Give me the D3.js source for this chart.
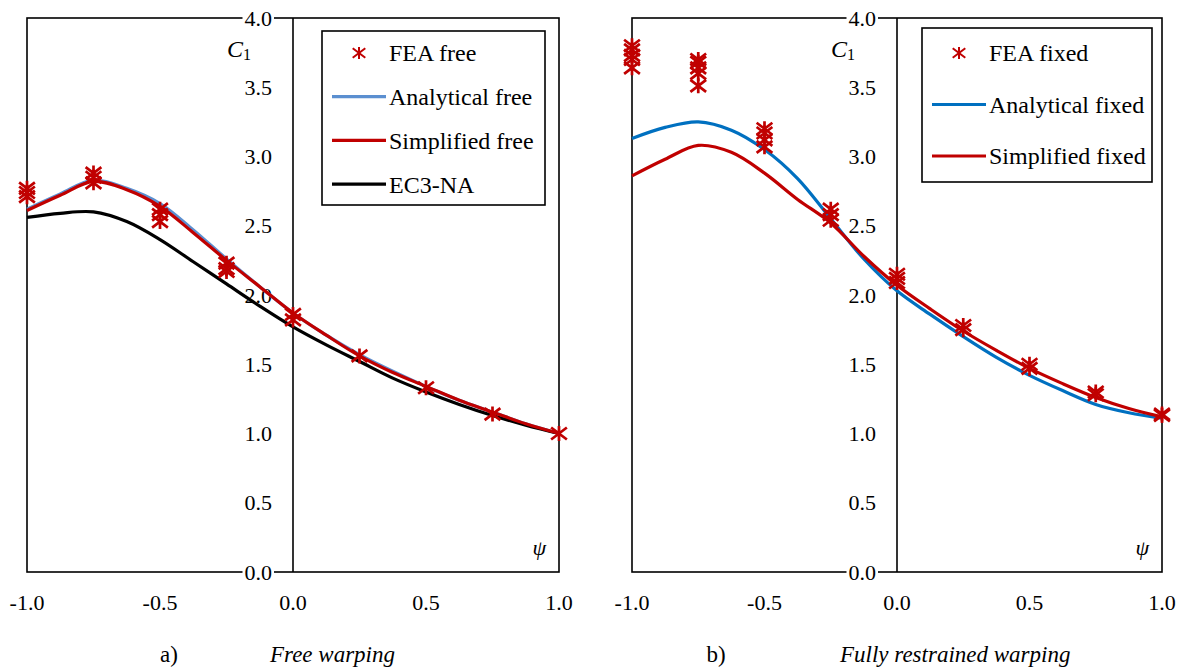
<!DOCTYPE html>
<html><head><meta charset="utf-8">
<script src="https://cdn.jsdelivr.net/npm/d3@7"></script>
<style>body{margin:0;background:#fff}svg{display:block}</style>
</head><body>
<svg id="c" width="1184" height="668" font-family="'Liberation Serif', 'Times New Roman', 'DejaVu Serif', serif"></svg>
<script>
// ---- data ----
const xTicks = [-1.0, -0.5, 0.0, 0.5, 1.0];
const yTicks = [0.0, 0.5, 1.0, 1.5, 2.0, 2.5, 3.0, 3.5, 4.0];
const curvePsi = [-1, -0.875, -0.75, -0.625, -0.5, -0.375, -0.25, -0.125, 0, 0.125, 0.25, 0.375, 0.5, 0.625, 0.75, 0.875, 1];
// panel a (free warping)
const analyticalFree = [2.62, 2.73, 2.83, 2.77, 2.66, 2.47, 2.26, 2.06, 1.87, 1.71, 1.57, 1.45, 1.34, 1.24, 1.155, 1.07, 1.0];
const simplifiedFree = [2.61, 2.72, 2.82, 2.76, 2.64, 2.45, 2.25, 2.06, 1.87, 1.71, 1.56, 1.44, 1.34, 1.24, 1.155, 1.07, 1.0];
const ec3NA          = [2.56, 2.59, 2.60, 2.53, 2.40, 2.24, 2.08, 1.92, 1.77, 1.64, 1.52, 1.40, 1.30, 1.21, 1.13, 1.06, 1.0];
const feaFreePsi  = [-1, -1, -1, -0.75, -0.75, -0.75, -0.5, -0.5, -0.5, -0.25, -0.25, -0.25, 0, 0, 0.25, 0.5, 0.75, 1];
const feaFreeC1   = [2.77, 2.74, 2.71, 2.88, 2.85, 2.81, 2.62, 2.58, 2.53, 2.23, 2.19, 2.17, 1.86, 1.82, 1.56, 1.33, 1.14, 1.00];
// panel b (fully restrained warping)
const analyticalFixed = [3.13, 3.21, 3.25, 3.19, 3.05, 2.84, 2.55, 2.26, 2.03, 1.86, 1.70, 1.55, 1.42, 1.31, 1.21, 1.15, 1.11];
const simplifiedFixed = [2.86, 2.98, 3.08, 3.03, 2.88, 2.69, 2.52, 2.28, 2.07, 1.90, 1.74, 1.60, 1.47, 1.36, 1.26, 1.18, 1.12];
const feaFixedPsi = [-1, -1, -1, -1, -1, -0.75, -0.75, -0.75, -0.75, -0.75, -0.5, -0.5, -0.5, -0.5, -0.25, -0.25, -0.25, 0, 0, 0, 0.25, 0.25, 0.5, 0.5, 0.75, 0.75, 1, 1];
const feaFixedC1  = [3.80, 3.77, 3.73, 3.70, 3.64, 3.70, 3.68, 3.64, 3.60, 3.51, 3.20, 3.17, 3.12, 3.07, 2.62, 2.58, 2.54, 2.15, 2.12, 2.09, 1.78, 1.75, 1.50, 1.47, 1.30, 1.28, 1.14, 1.13];

const RED = "#c00000";
const FONT = "'Liberation Serif', 'Times New Roman', 'DejaVu Serif', serif";
const svg = d3.select("#c");

function T(sel) { return sel.append("text").attr("font-family", FONT).attr("fill", "#000"); }

function panel(opt) {
  const x = d3.scaleLinear().domain([-1, 1]).range([opt.x0, opt.x1]);
  const y = d3.scaleLinear().domain([0, 4]).range([572, 18]);
  const g = svg.append("g");
  g.append("rect").attr("x", x(-1)).attr("y", y(4)).attr("width", x(1) - x(-1)).attr("height", y(0) - y(4))
    .attr("fill", "none").attr("stroke", "#000").attr("stroke-width", 1.6);
  g.append("line").attr("x1", x(0)).attr("x2", x(0)).attr("y1", y(0)).attr("y2", y(4))
    .attr("stroke", "#000").attr("stroke-width", 1.6);
  yTicks.forEach(t => {
    const tg = g.append("g");
    const tx = T(tg).attr("x", x(0) - 21).attr("y", y(t)).attr("dy", "0.35em")
      .attr("text-anchor", "end").attr("font-size", 22).text(d3.format(".1f")(t));
    const bb = tx.node().getBBox();
    tg.insert("rect", "text").attr("x", bb.x - 2).attr("y", bb.y + 3).attr("width", bb.width + 4).attr("height", bb.height - 6).attr("fill", "#fff");
  });
  xTicks.forEach(t => {
    T(g).attr("x", x(t)).attr("y", 610).attr("text-anchor", "middle").attr("font-size", 22)
      .text(d3.format(".1f")(t).replace("−", "-"));
  });
  const cl = T(g).attr("x", x(0) - 66).attr("y", 57).attr("font-size", 24);
  cl.append("tspan").attr("font-style", "italic").text("C");
  cl.append("tspan").attr("font-size", 16).attr("dy", 3).text("1");
  T(g).attr("x", x(0.9)).attr("y", 555).attr("font-style", "italic").attr("font-size", 22).text("ψ");
  const line = d3.line().x((d, i) => x(curvePsi[i])).y(d => y(d)).curve(d3.curveCatmullRom.alpha(0.5));
  opt.lines.forEach(l => {
    g.append("path").attr("d", line(l.values)).attr("fill", "none").attr("stroke", l.color).attr("stroke-width", 3.2);
  });
  const star = (cx, cy, s) => {
    const a = s, b = s * 1.05, c = s * 0.8;
    return `M${cx},${cy - a}L${cx},${cy + a}M${cx - b},${cy - c}L${cx + b},${cy + c}M${cx - b},${cy + c}L${cx + b},${cy - c}`;
  };
  opt.psi.forEach((p, i) => {
    g.append("path").attr("d", star(x(p), y(opt.c1[i]), 7.5)).attr("stroke", RED).attr("stroke-width", 2.7).attr("fill", "none");
  });
  const L = opt.legend;
  g.append("rect").attr("x", L.x).attr("y", L.y).attr("width", L.w).attr("height", L.h)
    .attr("fill", "#fff").attr("stroke", "#000").attr("stroke-width", 1.6);
  L.items.forEach((it, i) => {
    const cy = L.y + L.first + i * L.step;
    if (it.marker) {
      g.append("path").attr("d", star(L.x + 37, cy, 6)).attr("stroke", RED).attr("stroke-width", 2).attr("fill", "none");
    } else {
      g.append("line").attr("x1", L.x + 10).attr("x2", L.x + 64).attr("y1", cy).attr("y2", cy)
        .attr("stroke", it.color).attr("stroke-width", 3.2);
    }
    T(g).attr("x", L.x + 67).attr("y", cy).attr("dy", "0.35em").attr("font-size", 24).text(it.label);
  });
  T(g).attr("x", opt.capX).attr("y", 662).attr("text-anchor", "middle").attr("font-size", 23).text(opt.capLetter);
  T(g).attr("x", opt.capTx).attr("y", 662).attr("font-style", "italic").attr("font-size", 23).text(opt.capText);
}

panel({
  x0: 27, x1: 559,
  lines: [
    {values: analyticalFree, color: "#5b8fd0"},
    {values: ec3NA, color: "#000"},
    {values: simplifiedFree, color: RED}
  ],
  psi: feaFreePsi, c1: feaFreeC1,
  legend: {x: 322, y: 31, w: 223, h: 174, first: 22, step: 43.7, items: [
    {marker: true, label: "FEA free"},
    {color: "#5b8fd0", label: "Analytical free"},
    {color: RED, label: "Simplified free"},
    {color: "#000", label: "EC3-NA"}
  ]},
  capX: 169, capLetter: "a)", capTx: 270, capText: "Free warping"
});

panel({
  x0: 632, x1: 1162,
  lines: [
    {values: analyticalFixed, color: "#0070c0"},
    {values: simplifiedFixed, color: RED}
  ],
  psi: feaFixedPsi, c1: feaFixedC1,
  legend: {x: 922, y: 28, w: 230, h: 154, first: 25, step: 51.5, items: [
    {marker: true, label: "FEA fixed"},
    {color: "#0070c0", label: "Analytical fixed"},
    {color: RED, label: "Simplified fixed"}
  ]},
  capX: 716, capLetter: "b)", capTx: 840, capText: "Fully restrained warping"
});
</script>
</body></html>
